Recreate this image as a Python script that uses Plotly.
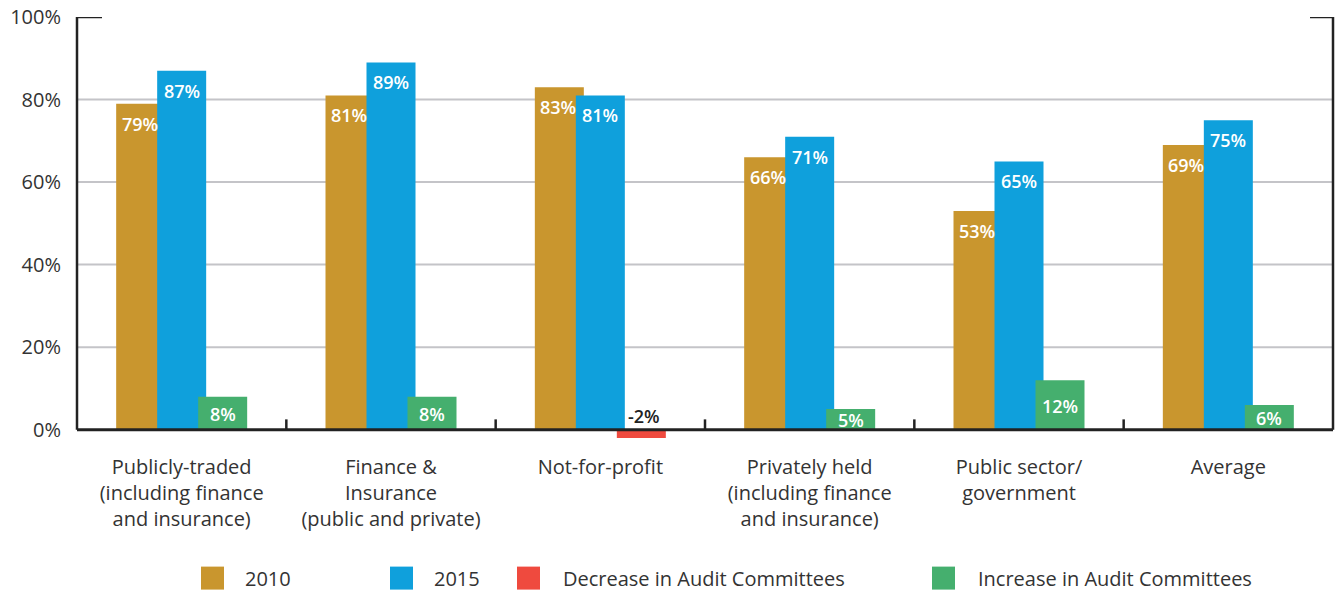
import plotly.graph_objects as go

# ---- data ----
categories = [
    'Publicly-traded<br>(including finance<br>and insurance)',
    'Finance &<br>Insurance<br>(public and private)',
    'Not-for-profit',
    'Privately held<br>(including finance<br>and insurance)',
    'Public sector/<br>government',
    'Average',
]
values_2010 = [79, 81, 83, 66, 53, 69]
values_2015 = [87, 89, 81, 71, 65, 75]
change = [8, 8, -2, 5, 12, 6]

y_ticks = [0, 20, 40, 60, 80, 100]
y_ticktext = ['0%', '20%', '40%', '60%', '80%', '100%']

GOLD = '#C9962E'
BLUE = '#0FA0DC'
RED = '#EF4A3E'
GREEN = '#45AF6E'
INK = '#222222'
TXT = '#333333'
GRID = '#C4C4C8'
FONT = 'Open Sans'

# ---- layout geometry (screen pixels) ----
W, H = 1335, 591
L, R = 77, 1333
TOP, BOTTOM = 17, 440.3
plot_w = R - L
plot_h = BOTTOM - TOP
cat_px = plot_w / len(categories)
bar_px = 49
step_px = 41

bw = bar_px / cat_px
off_gold = (-step_px - bar_px / 2) / cat_px
off_blue = (-bar_px / 2) / cat_px
off_chg = (step_px - bar_px / 2) / cat_px


def px_x(x):
    return (x - L) / plot_w


def px_y(y):
    return (BOTTOM - y) / plot_h


increase = [c if c > 0 else None for c in change]
decrease = [c if c < 0 else None for c in change]

fig = go.Figure()
fig.add_trace(go.Bar(x=categories, y=values_2010, width=bw, offset=off_gold,
                     marker=dict(color=GOLD, line_width=0), name='2010'))
fig.add_trace(go.Bar(x=categories, y=values_2015, width=bw, offset=off_blue,
                     marker=dict(color=BLUE, line_width=0), name='2015'))
fig.add_trace(go.Bar(x=categories, y=decrease, width=bw, offset=off_chg,
                     marker=dict(color=RED, line_width=0), name='Decrease in Audit Committees'))
fig.add_trace(go.Bar(x=categories, y=increase, width=bw, offset=off_chg,
                     marker=dict(color=GREEN, line_width=0), name='Increase in Audit Committees'))

annotations = []
lab_font = dict(family=FONT, size=18, color='white', weight=600)
for cat, v10, v15, ch in zip(categories, values_2010, values_2015, change):
    annotations.append(dict(x=cat, y=v10, text=f'{v10}%', showarrow=False,
                            xshift=-step_px - 1, yshift=-20, font=lab_font))
    annotations.append(dict(x=cat, y=v15, text=f'{v15}%', showarrow=False,
                            xshift=0, yshift=-20, font=lab_font))
    if ch > 0:
        annotations.append(dict(x=cat, y=ch / 2, text=f'{ch}%', showarrow=False,
                                xshift=step_px, yshift=-1, font=lab_font))
    else:
        annotations.append(dict(x=cat, y=0, text=f'{ch}%', showarrow=False,
                                yanchor='bottom', xshift=step_px + 3, yshift=0,
                                font=dict(family=FONT, size=18, color=INK, weight=600)))

# manual legend
legend_items = [
    ('2010', GOLD, 201, 243),
    ('2015', BLUE, 390, 432),
    ('Decrease in Audit Committees', RED, 517, 561),
    ('Increase in Audit Committees', GREEN, 932, 976),
]
shapes = []
for name, col, sx, tx in legend_items:
    shapes.append(dict(type='rect', xref='paper', yref='paper',
                       x0=px_x(sx), x1=px_x(sx + 23), y0=px_y(590), y1=px_y(567),
                       fillcolor=col, line_width=0))
    annotations.append(dict(xref='paper', yref='paper', x=px_x(tx), y=px_y(578.5),
                            xanchor='left', yanchor='middle', text=name, showarrow=False,
                            font=dict(family=FONT, size=20, color=TXT)))

# grid lines
for g in y_ticks[1:-1]:
    shapes.append(dict(type='line', xref='paper', yref='y', x0=0, x1=1, y0=g, y1=g,
                       line=dict(color=GRID, width=2), layer='below'))

# frame
frame = dict(color=INK, width=2.5)
shapes += [
    dict(type='line', xref='paper', yref='y', x0=0, x1=0, y0=0, y1=100, line=frame),
    dict(type='line', xref='paper', yref='y', x0=1, x1=1, y0=0, y1=100, line=frame),
    dict(type='line', xref='paper', yref='y', x0=0, x1=1, y0=0, y1=0,
         line=dict(color=INK, width=3)),
    dict(type='line', xref='paper', yref='y', x0=0, x1=px_x(102), y0=100, y1=100, line=frame),
    dict(type='line', xref='paper', yref='y', x0=px_x(1310), x1=1, y0=100, y1=100, line=frame),
]
for i in range(1, len(categories)):
    xb = i / len(categories)
    shapes.append(dict(type='line', xref='paper', yref='y', x0=xb, x1=xb, y0=0, y1=2.5,
                       line=dict(color=INK, width=2.5)))

fig.update_layout(
    width=W, height=H,
    margin=dict(l=L, r=W - R, t=TOP, b=H - BOTTOM),
    barmode='overlay',
    showlegend=False,
    plot_bgcolor='white',
    paper_bgcolor='white',
    font=dict(family=FONT, color=TXT, size=20),
    xaxis=dict(showgrid=False, showline=False, zeroline=False, ticks='',
               automargin=False,
               range=[-0.5, len(categories) - 0.5], ticklabelstandoff=13,
               tickfont=dict(family=FONT, size=20, color=TXT)),
    yaxis=dict(range=[-2.5, 100], tickvals=y_ticks, ticktext=y_ticktext,
               showgrid=False, zeroline=False, showline=False, ticks='',
               automargin=False,
               ticklabelstandoff=15, ticklabeloverflow='allow',
               tickfont=dict(family=FONT, size=20, color=TXT)),
    shapes=shapes,
    annotations=annotations,
)

# page body margin off so the figure sits at the window's top-left corner
fig.write_html('out.html', config={'displayModeBar': False},
               post_script="document.body.style.margin='0';")
